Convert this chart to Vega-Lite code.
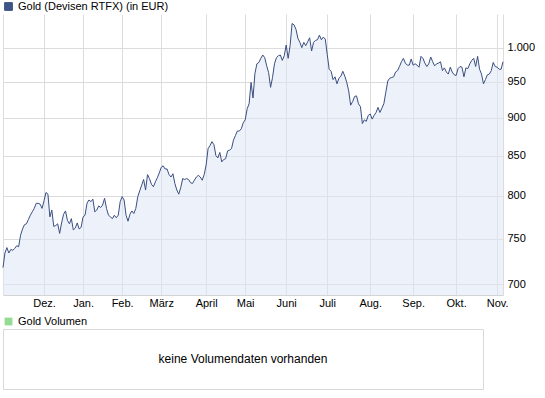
{
  "$schema": "https://vega.github.io/schema/vega-lite/v6.json",
  "padding": {"left": 1, "top": 1, "right": 0, "bottom": 0},
  "background": "white",
  "spacing": 7,
  "config": {
    "view": {"stroke": null},
    "font": "Liberation Sans",
    "axis": {"labelFont": "Liberation Sans", "labelFontSize": 11, "labelColor": "#000000"},
    "legend": {"labelFont": "Liberation Sans", "labelFontSize": 11, "labelColor": "#000000"}
  },
  "resolve": {"scale": {"color": "independent"}, "legend": {"color": "independent"}},
  "vconcat": [
    {
      "width": 500,
      "height": 281,
      "data": {"values": [
        {"d":0,"v":718},{"d":1,"v":734},{"d":2,"v":740},{"d":3,"v":734},{"d":4,"v":738},{"d":5,"v":737},{"d":6,"v":739},{"d":7,"v":742},{"d":8,"v":741},{"d":9,"v":754},
        {"d":10,"v":761},{"d":11,"v":766},{"d":12,"v":767},{"d":13,"v":772},{"d":14,"v":777},{"d":15,"v":781},{"d":16,"v":785},{"d":17,"v":791},{"d":18,"v":791},{"d":19,"v":790},
        {"d":20,"v":785},{"d":21,"v":794},{"d":22,"v":804},{"d":23,"v":802},{"d":24,"v":775},{"d":25,"v":783},{"d":26,"v":764},{"d":27,"v":765},{"d":28,"v":767},{"d":29,"v":756},
        {"d":30,"v":768},{"d":31,"v":778},{"d":32,"v":782},{"d":33,"v":771},{"d":34,"v":767},{"d":35,"v":773},{"d":36,"v":760},{"d":37,"v":762},{"d":38,"v":768},{"d":39,"v":761},
        {"d":40,"v":763},{"d":41,"v":775},{"d":42,"v":777},{"d":43,"v":791},{"d":44,"v":795},{"d":45,"v":793},{"d":46,"v":796},{"d":47,"v":781},{"d":48,"v":783},{"d":49,"v":788},
        {"d":50,"v":786},{"d":51,"v":789},{"d":52,"v":797},{"d":53,"v":785},{"d":54,"v":777},{"d":55,"v":775},{"d":56,"v":773},{"d":57,"v":777},{"d":58,"v":774},{"d":59,"v":777},
        {"d":60,"v":793},{"d":61,"v":799},{"d":62,"v":795},{"d":63,"v":777},{"d":64,"v":770},{"d":65,"v":778},{"d":66,"v":782},{"d":67,"v":779},{"d":68,"v":785},{"d":69,"v":799},
        {"d":70,"v":806},{"d":71,"v":813},{"d":72,"v":820},{"d":73,"v":807},{"d":74,"v":826},{"d":75,"v":821},{"d":76,"v":814},{"d":77,"v":811},{"d":78,"v":817},{"d":79,"v":822},
        {"d":80,"v":828},{"d":81,"v":835},{"d":82,"v":837},{"d":83,"v":833},{"d":84,"v":833},{"d":85,"v":826},{"d":86,"v":823},{"d":87,"v":827},{"d":88,"v":815},{"d":89,"v":807},
        {"d":90,"v":802},{"d":91,"v":810},{"d":92,"v":821},{"d":93,"v":820},{"d":94,"v":821},{"d":95,"v":820},{"d":96,"v":816},{"d":97,"v":815},{"d":98,"v":819},{"d":99,"v":823},
        {"d":100,"v":825},{"d":101,"v":823},{"d":102,"v":819},{"d":103,"v":826},{"d":104,"v":838},{"d":105,"v":859},{"d":106,"v":863},{"d":107,"v":868},{"d":108,"v":864},{"d":109,"v":850},
        {"d":110,"v":847},{"d":111,"v":854},{"d":112,"v":842},{"d":113,"v":845},{"d":114,"v":846},{"d":115,"v":856},{"d":116,"v":857},{"d":117,"v":859},{"d":118,"v":870},{"d":119,"v":876},
        {"d":120,"v":882},{"d":121,"v":882},{"d":122,"v":885},{"d":123,"v":893},{"d":124,"v":897},{"d":125,"v":912},{"d":126,"v":919},{"d":127,"v":949},{"d":128,"v":927},{"d":129,"v":962},
        {"d":130,"v":976},{"d":131,"v":978},{"d":132,"v":984},{"d":133,"v":989},{"d":134,"v":985},{"d":135,"v":973},{"d":136,"v":963},{"d":137,"v":942},{"d":138,"v":956},{"d":139,"v":976},
        {"d":140,"v":985},{"d":141,"v":988},{"d":142,"v":989},{"d":143,"v":981},{"d":144,"v":988},{"d":145,"v":1004},{"d":146,"v":984},{"d":147,"v":1003},{"d":148,"v":1037},{"d":149,"v":1035},
        {"d":150,"v":1028},{"d":151,"v":1014},{"d":152,"v":1008},{"d":153,"v":1000},{"d":154,"v":1008},{"d":155,"v":1003},{"d":156,"v":1009},{"d":157,"v":1015},{"d":158,"v":995},{"d":159,"v":1008},
        {"d":160,"v":1011},{"d":161,"v":1012},{"d":162,"v":1019},{"d":163,"v":1012},{"d":164,"v":1016},{"d":165,"v":1013},{"d":166,"v":990},{"d":167,"v":968},{"d":168,"v":965},{"d":169,"v":953},
        {"d":170,"v":957},{"d":171,"v":947},{"d":172,"v":955},{"d":173,"v":958},{"d":174,"v":965},{"d":175,"v":958},{"d":176,"v":949},{"d":177,"v":937},{"d":178,"v":917},{"d":179,"v":922},
        {"d":180,"v":929},{"d":181,"v":930},{"d":182,"v":919},{"d":183,"v":915},{"d":184,"v":892},{"d":185,"v":897},{"d":186,"v":895},{"d":187,"v":903},{"d":188,"v":905},{"d":189,"v":898},
        {"d":190,"v":903},{"d":191,"v":907},{"d":192,"v":914},{"d":193,"v":907},{"d":194,"v":913},{"d":195,"v":919},{"d":196,"v":935},{"d":197,"v":951},{"d":198,"v":955},{"d":199,"v":956},
        {"d":200,"v":957},{"d":201,"v":964},{"d":202,"v":966},{"d":203,"v":972},{"d":204,"v":979},{"d":205,"v":984},{"d":206,"v":977},{"d":207,"v":974},{"d":208,"v":974},{"d":209,"v":983},
        {"d":210,"v":974},{"d":211,"v":976},{"d":212,"v":974},{"d":213,"v":971},{"d":214,"v":987},{"d":215,"v":984},{"d":216,"v":977},{"d":217,"v":972},{"d":218,"v":976},{"d":219,"v":986},
        {"d":220,"v":979},{"d":221,"v":973},{"d":222,"v":976},{"d":223,"v":977},{"d":224,"v":979},{"d":225,"v":966},{"d":226,"v":970},{"d":227,"v":964},{"d":228,"v":961},{"d":229,"v":971},
        {"d":230,"v":964},{"d":231,"v":960},{"d":232,"v":959},{"d":233,"v":969},{"d":234,"v":972},{"d":235,"v":971},{"d":236,"v":957},{"d":237,"v":970},{"d":238,"v":969},{"d":239,"v":976},
        {"d":240,"v":981},{"d":241,"v":984},{"d":242,"v":972},{"d":243,"v":987},{"d":244,"v":968},{"d":245,"v":961},{"d":246,"v":947},{"d":247,"v":953},{"d":248,"v":960},{"d":249,"v":961},
        {"d":250,"v":966},{"d":251,"v":978},{"d":252,"v":972},{"d":253,"v":971},{"d":254,"v":968},{"d":255,"v":968},{"d":256,"v":979}
      ]},
      "encoding": {
        "x": {
          "field": "d", "type": "quantitative",
          "scale": {"domain": [0, 256], "nice": false, "zero": false},
          "axis": {
            "title": null,
            "values": [0, 21, 41, 61, 81, 104, 124, 145, 166, 188, 210, 232, 253, 256],
            "labelExpr": "['', 'Dez.', 'Jan.', 'Feb.', 'März', 'April', 'Mai', 'Juni', 'Juli', 'Aug.', 'Sep.', 'Okt.', 'Nov.', ''][indexof([0, 21, 41, 61, 81, 104, 124, 145, 166, 188, 210, 232, 253, 256], datum.value)]",
            "labelOverlap": false,
            "labelFlush": false,
            "ticks": false,
            "labelPadding": 2,
            "grid": true,
            "gridColor": "#dcdcdc",
            "gridOpacity": 1,
            "domain": true,
            "domainColor": "#d4d4d4"
          }
        },
        "y": {
          "field": "v", "type": "quantitative",
          "scale": {"type": "log", "domain": [689, 1052], "nice": false, "zero": false},
          "axis": {
            "title": null,
            "orient": "right",
            "values": [700, 750, 800, 850, 900, 950, 1000],
            "labelExpr": "replace(format(datum.value, ','), ',', '.')",
            "ticks": false,
            "domain": false,
            "labelPadding": 4,
            "grid": true,
            "gridColor": "#dcdcdc",
            "gridOpacity": 1
          }
        }
      },
      "layer": [
        {
          "mark": {"type": "area", "fill": "#dfe5f5", "fillOpacity": 0.55, "stroke": null},
          "encoding": {"y2": {"datum": 689}}
        },
        {
          "mark": {"type": "line", "strokeWidth": 1, "interpolate": "linear"},
          "encoding": {
            "color": {
              "datum": "Gold (Devisen RTFX) (in EUR)",
              "type": "nominal",
              "scale": {"range": ["#3a4f80"]},
              "legend": {
                "title": null,
                "orient": "none",
                "legendX": 0,
                "legendY": -13,
                "symbolType": "square",
                "symbolSize": 60,
                "labelOffset": 4,
                "labelFontSize": 11,
                "encode": {"symbols": {"update": {"fill": {"value": "#3e5587"}, "stroke": {"value": "#1c2333"}, "strokeWidth": {"value": 1}, "opacity": {"value": 1}}}}
              }
            }
          }
        }
      ]
    },
    {
      "width": 480,
      "height": 60,
      "view": {"stroke": "#d9d9d9"},
      "data": {"values": [{"msg": "keine Volumendaten vorhanden"}]},
      "layer": [
        {
          "mark": {"type": "text", "fontSize": 12, "font": "Liberation Sans", "color": "#000000"},
          "encoding": {"text": {"field": "msg"}}
        },
        {
          "mark": {"type": "point", "filled": true, "size": 0},
          "encoding": {
            "color": {
              "datum": "Gold Volumen",
              "type": "nominal",
              "scale": {"range": ["#66cc66"]},
              "legend": {
                "title": null,
                "orient": "none",
                "legendX": 0,
                "legendY": -13,
                "symbolType": "square",
                "symbolSize": 60,
                "labelOffset": 4,
                "labelFontSize": 11,
                "encode": {"symbols": {"update": {"fill": {"value": "#66cc66"}, "fillOpacity": {"value": 1}, "stroke": {"value": "#1c3320"}, "strokeOpacity": {"value": 1}, "strokeWidth": {"value": 1}, "opacity": {"value": 1}}}}
              }
            }
          }
        }
      ]
    }
  ]
}
